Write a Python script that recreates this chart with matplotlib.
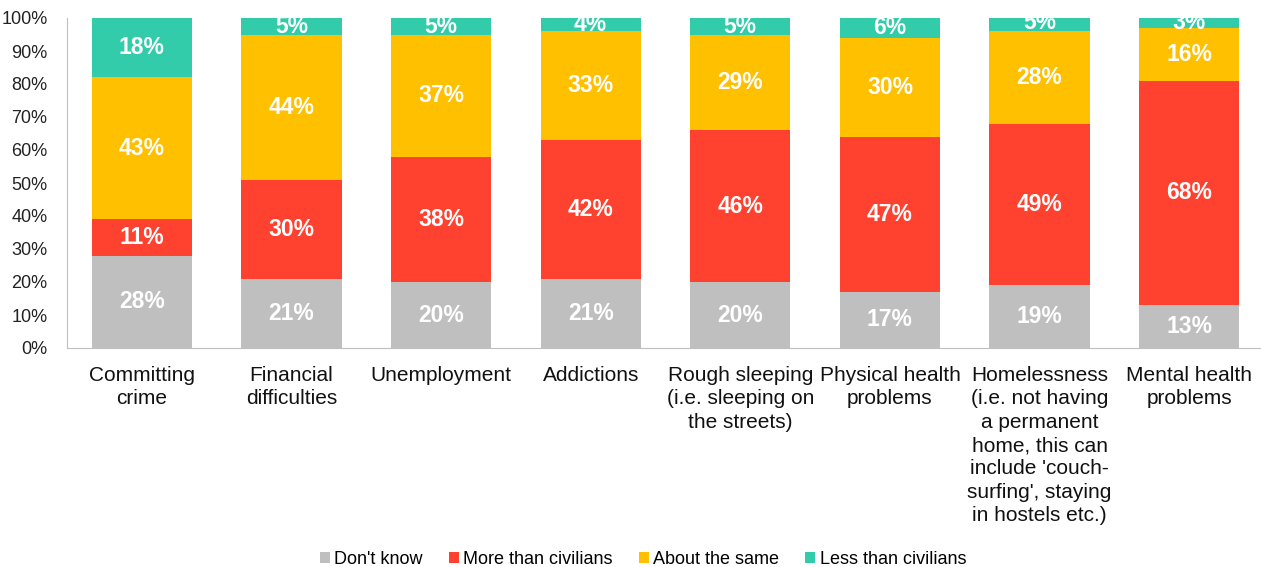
import matplotlib.pyplot as plt
import numpy as np

plt.rcParams['font.family'] = ['Liberation Sans', 'DejaVu Sans']

# categories and survey shares (%) per response
categories = ["Committing\ncrime", "Financial\ndifficulties", "Unemployment", "Addictions",
              "Rough sleeping\n(i.e. sleeping on\nthe streets)", "Physical health\nproblems",
              "Homelessness\n(i.e. not having\na permanent\nhome, this can\ninclude 'couch-\nsurfing', staying\nin hostels etc.)",
              "Mental health\nproblems"]
dont_know = [28, 21, 20, 21, 20, 17, 19, 13]
more_than = [11, 30, 38, 42, 46, 47, 49, 68]
about_same = [43, 44, 37, 33, 29, 30, 28, 16]
less_than = [18, 5, 5, 4, 5, 6, 5, 3]

series = [("Don't know", dont_know, "#BFBFBF"),
          ("More than civilians", more_than, "#FF4230"),
          ("About the same", about_same, "#FFC000"),
          ("Less than civilians", less_than, "#33CCAA")]

fig = plt.figure(figsize=(12.61, 5.67), dpi=100)
ax = fig.add_axes([67 / 1261, 1 - 348 / 567, 1197 / 1261, 330 / 567])

x = np.arange(len(categories))
bottom = np.zeros(len(categories))
for name, vals, col in series:
    vals = np.array(vals, dtype=float)
    ax.bar(x, vals, 0.67, bottom=bottom, color=col, label=name, zorder=2)
    for xi, b, v in zip(x, bottom, vals):
        ax.text(xi, b + v / 2, f"{int(v)}%", ha="center", va="center",
                color="white", fontsize=16.5, fontweight="bold", zorder=3)
    bottom += vals

ax.set_xlim(-0.5, len(categories) - 0.5)
ax.set_ylim(0, 100)
ax.set_yticks(range(0, 101, 10))
ax.set_yticklabels([f"{t}%" for t in range(0, 101, 10)], fontsize=13, color="#222222")
ax.set_xticks(x)
ax.set_xticklabels(categories, fontsize=15, color="#111111", linespacing=1.29, va="top")
ax.tick_params(axis="both", length=0)
ax.tick_params(axis="x", pad=13)
ax.tick_params(axis="y", pad=14)
for s in ["top", "right"]:
    ax.spines[s].set_visible(False)
ax.spines["left"].set_color("#BFBFBF")
ax.spines["bottom"].set_color("#BFBFBF")

ax.legend(loc="center", bbox_to_anchor=((643 - 67) / 1197, (348 - 559) / 330),
          ncol=4, frameon=False, fontsize=13, handlelength=0.55, handleheight=0.55,
          handletextpad=0.25, columnspacing=1.45)

fig.savefig("out.png", dpi=100)
